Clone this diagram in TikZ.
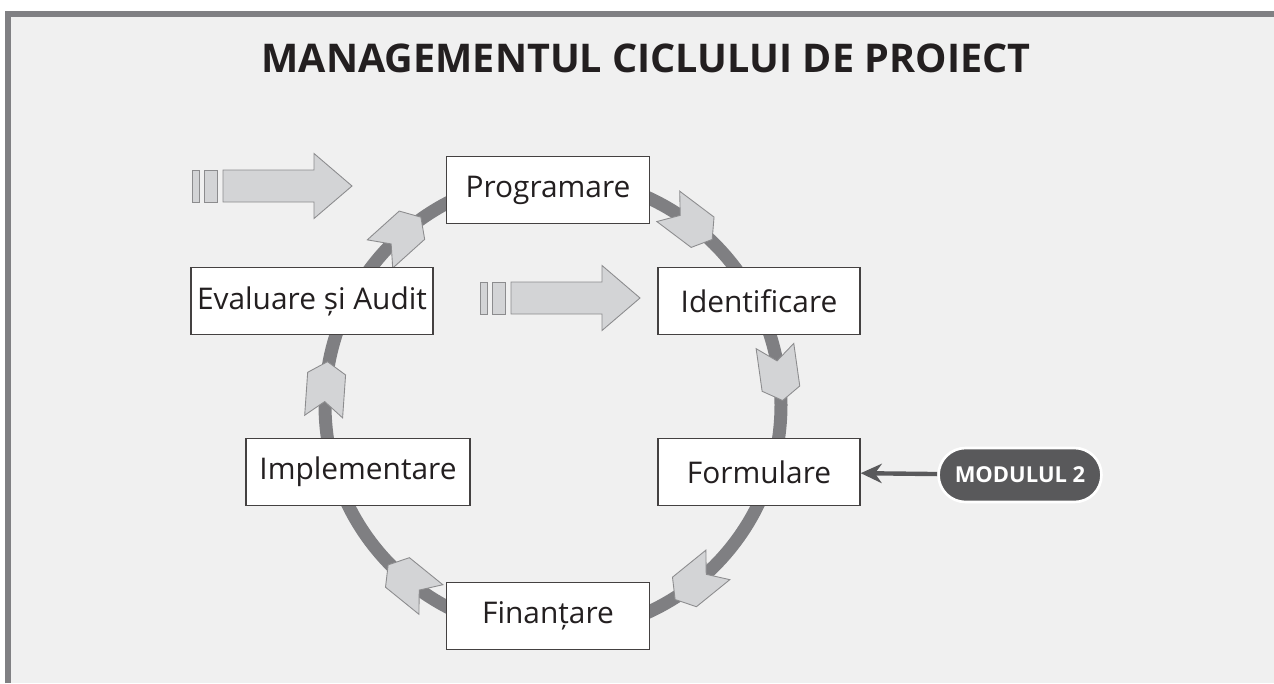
\documentclass[tikz,border=0pt]{standalone}
\usepackage{fontspec}
\setmainfont{Open Sans}
\usetikzlibrary{arrows.meta,calc}

\definecolor{fondo}{HTML}{F0F0F0}
\definecolor{borde}{HTML}{808083}
\definecolor{anillo}{HTML}{7F7F82}
\definecolor{relleno}{HTML}{D3D4D6}
\definecolor{contorno}{HTML}{8C8C8E}
\definecolor{oscuro}{HTML}{59595B}
\definecolor{texto}{HTML}{231F20}

\tikzset{
  caja/.style={draw=texto!85,line width=0.8pt,fill=white,text=texto,
    minimum height=1.35cm,font=\fontsize{17}{20}\selectfont},
  modulo/.style={draw=white,line width=1.5pt,fill=oscuro,text=white,
    rounded corners=0.54cm,minimum height=1.08cm,minimum width=3.26cm,
    font=\bfseries\fontsize{12.5}{15}\selectfont},
  chevron/.pic={\draw[contorno,fill=relleno,line width=0.5pt]
    (27.5,0) -- (15.5,19) -- (-27.5,19) -- (-12.5,0) -- (-27.5,-19) -- (15.5,-19) -- cycle;},
  flecha/.pic={\draw[contorno,fill=relleno,line width=0.5pt]
    (0,0) -- (-38,-32.5) -- (-38,-16) -- (-129,-16) -- (-129,16) -- (-38,16) -- (-38,32.5) -- cycle;
    \draw[contorno,fill=relleno,line width=0.5pt] (-148,-16) rectangle (-135,16);
    \draw[contorno,fill=relleno,line width=0.5pt] (-160,-16) rectangle (-153,16);}
}

\begin{document}
\begin{tikzpicture}[x=0.02cm,y=-0.02cm]
  \useasboundingbox (0,0) rectangle (1274,683);

  %fondo
  \fill[fondo] (8,14) rectangle (1274,683);
  \draw[borde,line width=3.5pt] (8,683) -- (8,14) -- (1274,14);

  %titulo
  \node[text=texto,font=\bfseries\fontsize{22.5}{27}\selectfont] (titulo) at (646,58) {MANAGEMENTUL CICLULUI DE PROIECT};

  %ciclo
  \coordinate (c) at (553,405);
  \draw[anillo,line width=0.26cm] (c) circle[radius=228];
  \foreach \a in {-53,-8,51,129,184,228}
    \pic[rotate=-\a-90] at ($(c)+(\a:228)$) {chevron};

  %etape
  \node[caja,minimum width=4.06cm] (prog) at (548,190) {Programare};
  \node[caja,minimum width=4.04cm] (ident) at (759,301) {Identificare};
  \node[caja,minimum width=4.04cm] (form) at (759,472) {Formulare};
  \node[caja,minimum width=4.06cm] (fin) at (548,616) {Finanțare};
  \node[caja,minimum width=4.48cm] (impl) at (358,472) {Implementare};
  \node[caja,minimum width=4.82cm] (eval) at (312,301) {Evaluare și Audit};

  %sageti mari
  \pic at (352,186) {flecha};
  \pic at (640,298) {flecha};

  %modulul 2
  \node[modulo] (mod) at (1020,475) {MODULUL 2};
  \draw[oscuro,line width=2.5pt,-{Stealth[length=12pt,width=11pt]}] (mod) -- (form);
\end{tikzpicture}
\end{document}
